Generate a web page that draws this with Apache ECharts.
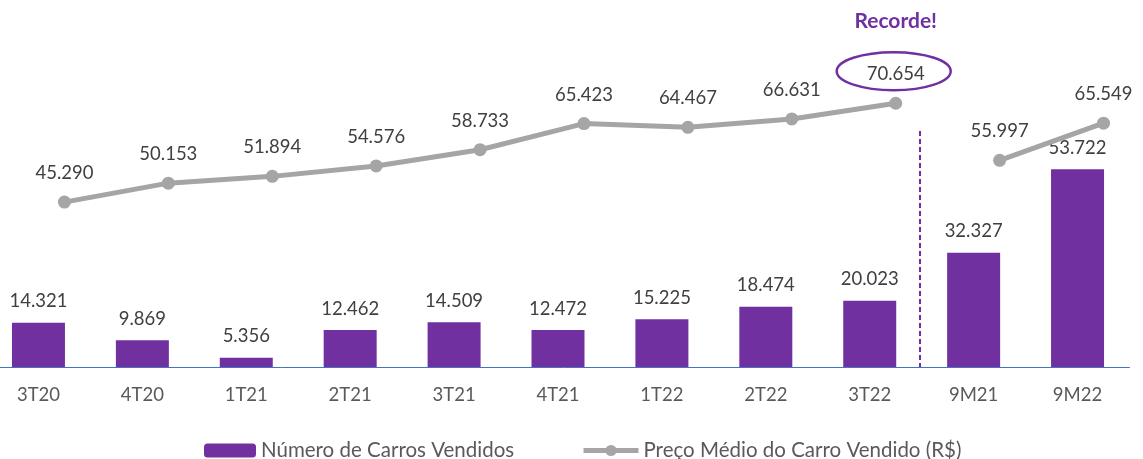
<!DOCTYPE html>
<html>
<head>
<meta charset="utf-8">
<script src="https://cdn.jsdelivr.net/npm/echarts@6/dist/echarts.min.js"></script>
<style>
html,body{margin:0;padding:0;background:#fff;}
#c{width:1143px;height:459px;}
</style>
</head>
<body>
<div id="c"></div>
<script>
const categories = ['3T20','4T20','1T21','2T21','3T21','4T21','1T22','2T22','3T22','9M21','9M22'];
const carsSold = [14321, 9869, 5356, 12462, 14509, 12472, 15225, 18474, 20023, 32327, 53722];
const avgPriceQuarter = [45290, 50153, 51894, 54576, 58733, 65423, 64467, 66631, 70654];
const avgPrice9M = [55997, 65549];
const barName = 'Número de Carros Vendidos';
const lineName = 'Preço Médio do Carro Vendido (R$)';
const annotationText = 'Recorde!';

const fmt = v => String(v).replace(/\B(?=(\d{3})+(?!\d))/g, '.');
const FONT = 'Lato';
const PURPLE = '#7030A0';
const GRAY = '#A5A5A5';

const linePts1 = avgPriceQuarter.map((v, i) => [i, v]);
const linePts2 = avgPrice9M.map((v, i) => [avgPriceQuarter.length + i, v]);
const dividerX = avgPriceQuarter.length - 0.77;

const chart = echarts.init(document.getElementById('c'));
const lineSeries = (data, withMark) => ({
  type: 'line', name: lineName, xAxisIndex: 1, yAxisIndex: 0,
  data: data, symbol: 'circle', symbolSize: 13,
  lineStyle: {color: GRAY, width: 5}, itemStyle: {color: GRAY},
  label: {show: true, position: 'top', distance: 13, fontFamily: FONT, fontSize: 18.5, color: '#404040',
          formatter: p => fmt(p.value[1])},
  z: 3,
  markLine: withMark ? {
    silent: true, symbol: 'none', label: {show: false},
    lineStyle: {color: PURPLE, type: [5, 3], width: 2},
    data: [[{coord: [dividerX, 63500]}, {coord: [dividerX, 3000]}]]
  } : undefined
});

chart.setOption({
  animation: false,
  textStyle: {fontFamily: FONT},
  grid: {left: -13.5, width: 1143, top: 20, height: 347, outerBoundsMode: 'none', containLabel: false},
  legend: [
    {data: [barName], left: 199, top: 435, itemWidth: 52, itemHeight: 14, itemGap: 0,
     textStyle: {fontFamily: FONT, fontSize: 20.5, color: '#595959'}},
    {data: [lineName], left: 576, top: 435, itemWidth: 55, itemHeight: 14,
     lineStyle: {width: 5, color: GRAY},
     textStyle: {fontFamily: FONT, fontSize: 20.5, color: '#595959'}}
  ],
  xAxis: [
    {type: 'category', data: categories, axisTick: {show: false},
     axisLine: {lineStyle: {color: '#4472C4', width: 1}},
     axisLabel: {fontFamily: FONT, fontSize: 18.5, color: '#595959', margin: 19}},
    {type: 'value', min: -0.75, max: categories.length - 0.75, show: false}
  ],
  yAxis: [
    {type: 'value', min: 3000, max: 92000, show: false, splitLine: {show: false}}
  ],
  series: [
    {type: 'bar', name: barName, data: carsSold, barWidth: '51%',
     itemStyle: {color: PURPLE},
     label: {show: true, position: 'top', distance: 12, fontFamily: FONT, fontSize: 18.5, color: '#404040',
             formatter: p => fmt(p.value)}, z: 2},
    lineSeries(linePts1, true),
    lineSeries(linePts2, false)
  ]
});

const rec = chart.convertToPixel({xAxisIndex: 1, yAxisIndex: 0}, linePts1[linePts1.length - 1]);
chart.setOption({
  graphic: [
    {type: 'ellipse', shape: {cx: rec[0] - 2, cy: rec[1] - 32, rx: 57, ry: 19},
     style: {fill: null, stroke: PURPLE, lineWidth: 2.5}, z: 10},
    {type: 'text', x: rec[0], y: rec[1] - 82,
     style: {text: annotationText, fill: PURPLE, font: 'bold 21px Lato', align: 'center', verticalAlign: 'middle'}, z: 10}
  ]
});
</script>
</body>
</html>
